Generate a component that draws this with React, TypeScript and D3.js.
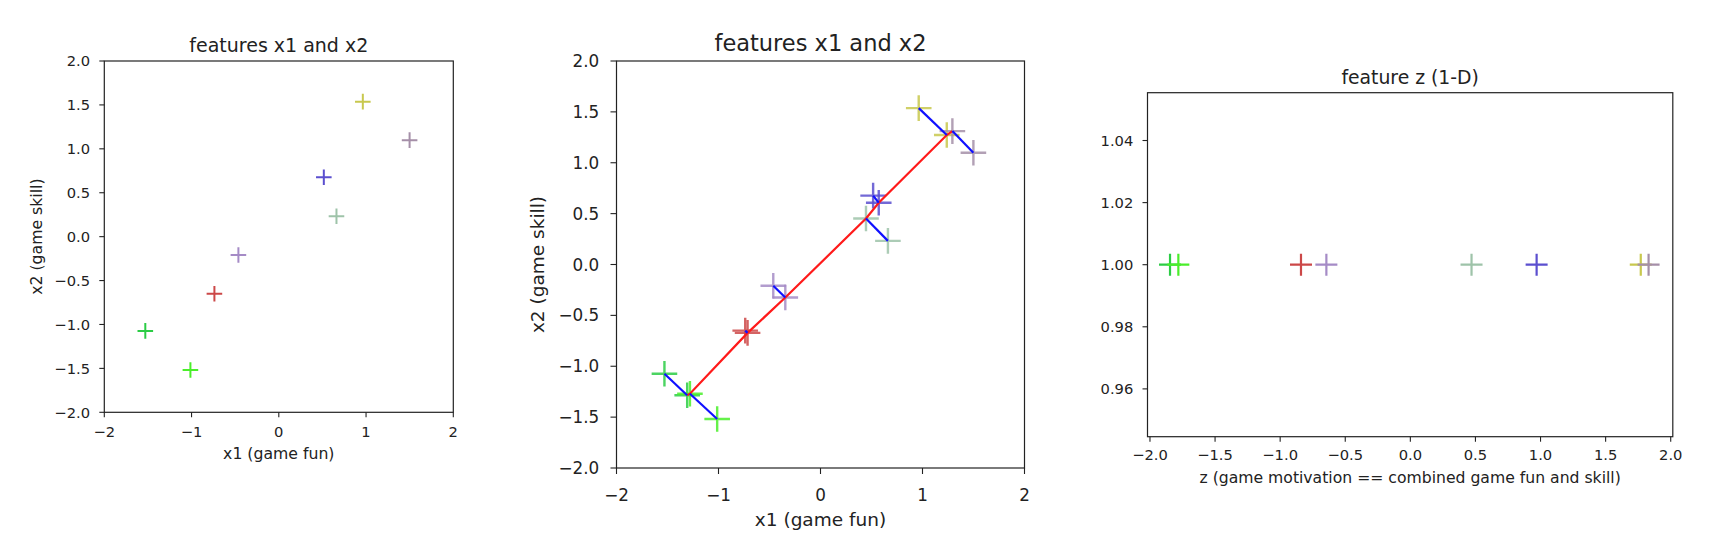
import React from "react";
import * as d3 from "d3";

// ---------- data ----------
const pointColors = ["#c8c84e", "#a58fa8", "#5b4fcf", "#9ec3a9", "#a58bc6", "#cc4848", "#2bcc45", "#4aee2a"];
const x1Values = [0.963, 1.499, 0.516, 0.661, -0.463, -0.738, -1.53, -1.013];
const x2Values = [1.537, 1.099, 0.677, 0.232, -0.209, -0.65, -1.073, -1.518];
// projections onto the principal axis
const projX1 = [1.238, 1.293, 0.571, 0.446, -0.345, -0.715, -1.307, -1.28];
const projX2 = [1.272, 1.311, 0.607, 0.452, -0.325, -0.672, -1.285, -1.27];
// 1-D feature z
const zValues = [1.77, 1.83, 0.97, 0.47, -0.645, -0.84, -1.846, -1.782];

const xTicks12 = [-2, -1, 0, 1, 2];
const yTicks12 = [-2, -1.5, -1, -0.5, 0, 0.5, 1, 1.5, 2];
const zTicks = [-2, -1.5, -1, -0.5, 0, 0.5, 1, 1.5, 2];
const yTicks3 = [0.96, 0.98, 1.0, 1.02, 1.04];

const title12 = "features x1 and x2";
const title3 = "feature z (1-D)";
const xLabel12 = "x1 (game fun)";
const yLabel12 = "x2 (game skill)";
const xLabel3 = "z (game motivation == combined game fun and skill)";

const FONT = "DejaVu Sans, Liberation Sans, sans-serif";
const TXT = "#222";

const minus = (s: string) => s.replace("-", "\u2212");
const fmtInt = (v: number) => minus(d3.format("d")(v));
const fmt1 = (v: number) => minus(v.toFixed(1));
const fmt2 = (v: number) => minus(v.toFixed(2));

type Frame = { l: number; r: number; t: number; b: number };

type AxesProps = {
  frame: Frame;
  x: d3.ScaleLinear<number, number>;
  y: d3.ScaleLinear<number, number>;
  xTicks: number[];
  yTicks: number[];
  xFmt: (v: number) => string;
  yFmt: (v: number) => string;
  tickFs: number;
  tickLen: number;
  xTickBaseline: number;
  yTickEnd: number;
  title: string;
  titleFs: number;
  titleBaseline: number;
  xLabel: string;
  xLabelBaseline: number;
  labelFs: number;
  yLabel?: string;
  yLabelX?: number;
  children?: React.ReactNode;
};

function Axes(p: AxesProps) {
  const { frame, x, y } = p;
  const cx = (frame.l + frame.r) / 2;
  const cy = (frame.t + frame.b) / 2;
  return (
    <g fontFamily={FONT} fill={TXT}>
      {p.children}
      <rect x={frame.l} y={frame.t} width={frame.r - frame.l} height={frame.b - frame.t} fill="none" stroke="#222" strokeWidth={1.2} />
      {p.xTicks.map((v) => (
        <g key={"xt" + v}>
          <line x1={x(v)} x2={x(v)} y1={frame.b} y2={frame.b + p.tickLen} stroke="#222" strokeWidth={1.1} />
          <text x={x(v)} y={p.xTickBaseline} textAnchor="middle" fontSize={p.tickFs}>
            {p.xFmt(v)}
          </text>
        </g>
      ))}
      {p.yTicks.map((v) => (
        <g key={"yt" + v}>
          <line x1={frame.l - p.tickLen} x2={frame.l} y1={y(v)} y2={y(v)} stroke="#222" strokeWidth={1.1} />
          <text x={p.yTickEnd} y={y(v) + p.tickFs * 0.36} textAnchor="end" fontSize={p.tickFs}>
            {p.yFmt(v)}
          </text>
        </g>
      ))}
      <text x={cx} y={p.titleBaseline} textAnchor="middle" fontSize={p.titleFs}>
        {p.title}
      </text>
      <text x={cx} y={p.xLabelBaseline} textAnchor="middle" fontSize={p.labelFs}>
        {p.xLabel}
      </text>
      {p.yLabel && (
        <text
          transform={`translate(${p.yLabelX},${cy}) rotate(-90)`}
          textAnchor="middle"
          dominantBaseline="central"
          fontSize={p.labelFs}
        >
          {p.yLabel}
        </text>
      )}
    </g>
  );
}

const crossPath = (cx: number, cy: number, s: number) =>
  `M${cx - s},${cy}H${cx + s}M${cx},${cy - s}V${cy + s}`;

export default function App() {
  // panel 1
  const f1: Frame = { l: 104.3, r: 453.3, t: 61, b: 412.3 };
  const xs1 = d3.scaleLinear().domain([-2, 2]).range([f1.l, f1.r]);
  const ys1 = d3.scaleLinear().domain([-2, 2]).range([f1.b, f1.t]);
  // panel 2
  const f2: Frame = { l: 616.5, r: 1024.5, t: 61, b: 468 };
  const xs2 = d3.scaleLinear().domain([-2, 2]).range([f2.l, f2.r]);
  const ys2 = d3.scaleLinear().domain([-2, 2]).range([f2.b, f2.t]);
  // panel 3
  const f3: Frame = { l: 1147.5, r: 1672.8, t: 92.7, b: 436.7 };
  const xs3 = d3.scaleLinear().domain([-2.019, 2.016]).range([f3.l, f3.r]);
  const ys3 = d3.scaleLinear().domain([0.9446, 1.0554]).range([f3.b, f3.t]);

  const idx = d3.range(x1Values.length);
  const sortedProj = [...idx].sort((a, b) => projX1[a] - projX1[b]);
  const redLine = d3
    .line<number>()
    .x((i) => xs2(projX1[i]))
    .y((i) => ys2(projX2[i]))(sortedProj) as string;

  return (
    <svg width={1711} height={536} style={{ position: "absolute", left: 0, top: 0, background: "#fff" }}>
      <rect x={0} y={0} width={1711} height={536} fill="#fff" />
      {/* Panel 1 */}
      <Axes
        frame={f1}
        x={xs1}
        y={ys1}
        xTicks={xTicks12}
        yTicks={yTicks12}
        xFmt={fmtInt}
        yFmt={fmt1}
        tickFs={14.7}
        tickLen={5}
        xTickBaseline={437}
        yTickEnd={90}
        title={title12}
        titleFs={19}
        titleBaseline={51.7}
        xLabel={xLabel12}
        xLabelBaseline={459}
        labelFs={15.7}
        yLabel={yLabel12}
        yLabelX={36.8}
      >
        {idx.map((i) => (
          <path key={i} d={crossPath(xs1(x1Values[i]), ys1(x2Values[i]), 7.8)} stroke={pointColors[i]} strokeWidth={2} fill="none" />
        ))}
      </Axes>

      {/* Panel 2 */}
      <Axes
        frame={f2}
        x={xs2}
        y={ys2}
        xTicks={xTicks12}
        yTicks={yTicks12}
        xFmt={fmtInt}
        yFmt={fmt1}
        tickFs={16.8}
        tickLen={6}
        xTickBaseline={501}
        yTickEnd={599.3}
        title={title12}
        titleFs={22.5}
        titleBaseline={51}
        xLabel={xLabel12}
        xLabelBaseline={526}
        labelFs={18.5}
        yLabel={yLabel12}
        yLabelX={537.5}
      >
        {idx.map((i) => (
          <path key={"o" + i} d={crossPath(xs2(x1Values[i]), ys2(x2Values[i]), 12.8)} stroke={pointColors[i]} strokeWidth={2.4} fill="none" opacity={0.85} />
        ))}
        {idx.map((i) => (
          <path key={"p" + i} d={crossPath(xs2(projX1[i]), ys2(projX2[i]), 12.8)} stroke={pointColors[i]} strokeWidth={2.4} fill="none" opacity={0.85} />
        ))}
        <path d={redLine} stroke="#ff1a1a" strokeWidth={2.2} fill="none" />
        {idx.map((i) => (
          <line
            key={"b" + i}
            x1={xs2(x1Values[i])}
            y1={ys2(x2Values[i])}
            x2={xs2(projX1[i])}
            y2={ys2(projX2[i])}
            stroke="#1010ff"
            strokeWidth={2.2}
          />
        ))}
      </Axes>

      {/* Panel 3 */}
      <Axes
        frame={f3}
        x={xs3}
        y={ys3}
        xTicks={zTicks}
        yTicks={yTicks3}
        xFmt={fmt1}
        yFmt={fmt2}
        tickFs={14.7}
        tickLen={5}
        xTickBaseline={460}
        yTickEnd={1133.3}
        title={title3}
        titleFs={18.8}
        titleBaseline={84}
        xLabel={xLabel3}
        xLabelBaseline={483.3}
        labelFs={15.65}
      >
        {idx.map((i) => (
          <path key={i} d={crossPath(xs3(zValues[i]), ys3(1), 11)} stroke={pointColors[i]} strokeWidth={2.2} fill="none" />
        ))}
      </Axes>
    </svg>
  );
}
